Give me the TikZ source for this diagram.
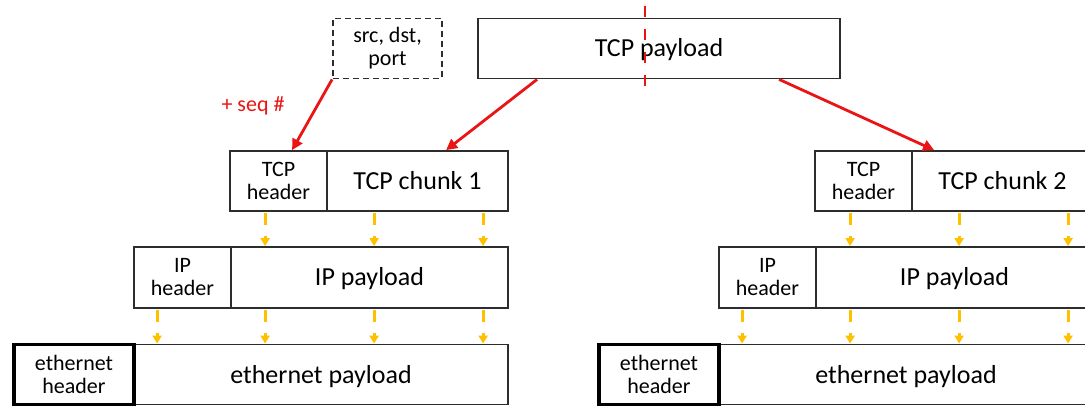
\documentclass[tikz,border=0pt]{standalone}
\usepackage{fontspec}
\setmainfont{Carlito}
\usetikzlibrary{arrows.meta}
\definecolor{boxline}{RGB}{45,45,45}
\definecolor{arrred}{RGB}{235,20,20}
\definecolor{arryel}{RGB}{255,192,0}
\tikzset{
  pbox/.style={draw=boxline, line width=1.8pt, rectangle, inner sep=0pt, align=center, minimum height=60pt},
  bigtxt/.style={font=\fontsize{26}{30}\selectfont, text height=20pt, text depth=3pt},
  smalltxt/.style={font=\fontsize{22}{23}\selectfont},
  thickbox/.style={line width=3.6pt, draw=black},
  ra/.style={draw=arrred, line width=2.8pt, -{Triangle[length=11pt,width=11pt]}},
  ya/.style={draw=arryel, line width=2.8pt, dash pattern=on 12pt off 11pt, shorten <=1.5pt, -{Triangle[length=8pt,width=9pt]}},
  cutline/.style={draw=arrred, line width=2.6pt, dash pattern=on 11pt off 12pt},
}
\begin{document}
\begin{tikzpicture}[x=1pt,y=-1pt]
\useasboundingbox (0,0) rectangle (1085,406);
% top boxes
\node[pbox, smalltxt, dashed, dash pattern=on 6pt off 4pt, minimum width=109pt, minimum height=60pt] (src) at (387.5,48.5) {src, dst,\\port};
\node[pbox, bigtxt, minimum width=362pt, minimum height=60pt] (pay) at (659,48.5) {TCP payload};
\draw[cutline] ([xshift=168pt,yshift=12pt]pay.north west) -- ([xshift=168pt,yshift=-8pt]pay.south west);
\node[text=arrred, smalltxt] (seq) at (253,106) {+ seq \#};
\foreach \s/\dx/\num in {L/0/1, R/585/2}{
  \begin{scope}[xshift=\dx pt]
  \node[pbox, smalltxt, minimum width=97pt] (\s tcph) at (278.5,181) {TCP\\header};
  \node[pbox, bigtxt, minimum width=181pt] (\s tcpc) at (417.5,181) {TCP chunk \num};
  \node[pbox, smalltxt, minimum width=97pt, minimum height=61pt] (\s iph) at (182.5,277.5) {IP\\header};
  \node[pbox, bigtxt, minimum width=277pt, minimum height=61pt] (\s ipp) at (369.5,277.5) {IP payload};
  \node[pbox, bigtxt, minimum width=374pt] (\s ethp) at (321,374.5) {ethernet payload};
  \node[pbox, thickbox, smalltxt, minimum width=120pt] (\s eth) at (74,374.5) {ethernet\\header};
  \foreach \o in {36,145,254}{
    \draw[ya] ([xshift=\o pt]\s tcph.south west) -- ([xshift=\o pt]\s tcph.south west |- \s ipp.north);
  }
  \foreach \o in {24,132,241,350}{
    \draw[ya] ([xshift=\o pt]\s iph.south west) -- ([xshift=\o pt]\s iph.south west |- \s ethp.north);
  }
  \end{scope}
}
% red arrows
\draw[ra] (src.south west) -- ([xshift=63pt]Ltcph.north west);
\draw[ra] ([xshift=60pt]pay.south west) -- ([xshift=120pt]Ltcpc.north west);
\draw[ra] ([xshift=302pt]pay.south west) -- ([xshift=23pt]Rtcpc.north west);
\end{tikzpicture}
\end{document}
